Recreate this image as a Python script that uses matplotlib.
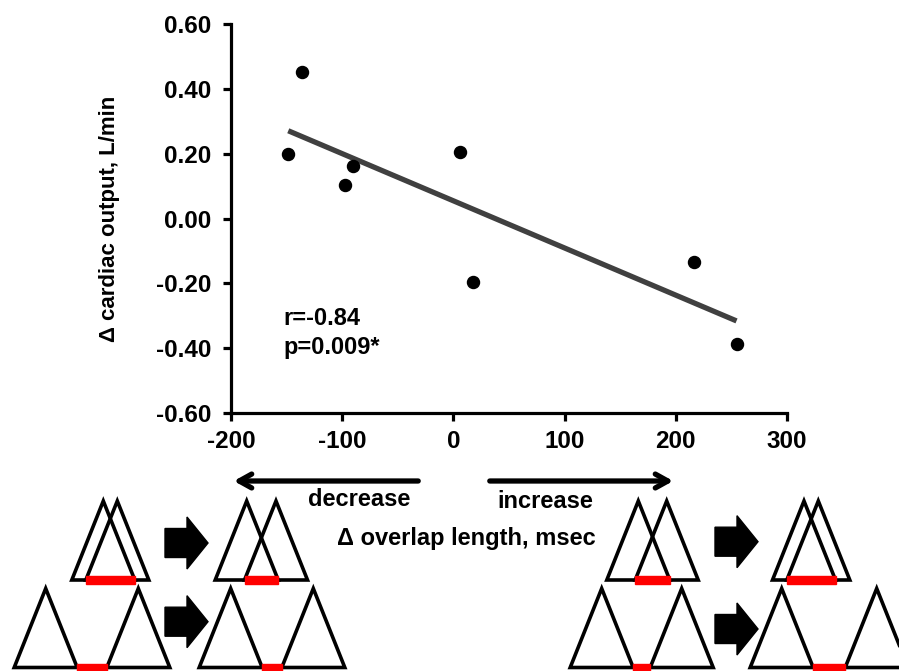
import numpy as np
import matplotlib
matplotlib.use("Agg")
import matplotlib.pyplot as plt
from matplotlib.patches import Polygon, Rectangle

plt.rcParams['font.family'] = ['Liberation Sans', 'DejaVu Sans']
plt.rcParams['font.weight'] = 'bold'
plt.rcParams['axes.unicode_minus'] = False

# data
overlap_change = [-148.5, -136, -97.6, -90, 5.7, 17.4, 216, 254.6]
co_change = [0.20, 0.452, 0.104, 0.163, 0.206, -0.197, -0.135, -0.388]
x_ticks = [-200, -100, 0, 100, 200, 300]
y_ticks = [-0.6, -0.4, -0.2, 0.0, 0.2, 0.4, 0.6]
stat_lines = ["r=-0.84", "p=0.009*"]

# schematic: apex x of triangle pairs (pixels), row apex/base y
tri_pairs_top = [(103.3, 117.3), (246.7, 276), (638.3, 666.7), (804, 818.3)]
tri_pairs_bot = [(45.7, 138.3), (230.7, 313.3), (601.7, 681.7), (781.7, 876.7)]
block_arrows = [(165, 543), (165, 621.7), (715, 541.7), (715, 629)]

W, H = 899, 671
fig = plt.figure(figsize=(W / 100, H / 100), dpi=100)
ax = fig.add_axes([231 / W, 1 - 413 / H, (787 - 231) / W, (413 - 24) / H])

x = np.array(overlap_change)
y = np.array(co_change)
ax.scatter(x, y, s=75, color='black', zorder=3)
k, b = np.polyfit(x, y, 1)
xl = np.array([x.min(), x.max()])
ax.plot(xl, k * xl + b, color='#404040', lw=3.8, solid_capstyle='butt')

ax.set_xlim(-200, 300)
ax.set_ylim(-0.6, 0.6)
ax.set_xticks(x_ticks)
ax.set_yticks(y_ticks)
ax.set_yticklabels(["%.2f" % v for v in y_ticks])
ax.spines['top'].set_visible(False)
ax.spines['right'].set_visible(False)
for s in ['left', 'bottom']:
    ax.spines[s].set_linewidth(2.3)
ax.tick_params(width=2.3, length=6, labelsize=17.5)
ax.tick_params(axis='y', pad=8)
ax.tick_params(axis='x', pad=6)
ax.set_ylabel("Δ cardiac output, L/min", fontsize=16, fontweight='bold', labelpad=26)
ax.text(-153, -0.33, stat_lines[0], fontsize=17, va='baseline')
ax.text(-153, -0.418, stat_lines[1], fontsize=17, va='baseline')

# overlay in pixel space for the schematic
ov = fig.add_axes([0, 0, 1, 1])
ov.set_xlim(0, W)
ov.set_ylim(H, 0)
ov.axis('off')
ov.patch.set_alpha(0)

ov.annotate("", xy=(231, 481), xytext=(421, 481),
            arrowprops=dict(arrowstyle='->,head_length=0.9,head_width=0.5', lw=3.8, color='black'))
ov.annotate("", xy=(676, 481), xytext=(487, 481),
            arrowprops=dict(arrowstyle='->,head_length=0.9,head_width=0.5', lw=3.8, color='black'))
ov.text(359, 499, "decrease", fontsize=17, ha='center', va='center')
ov.text(545, 502, "increase", fontsize=17, ha='center', va='center')
ov.text(466, 539, "Δ overlap length, msec", fontsize=17, ha='center', va='center')

hw, th = 31.5, 79


def draw_pair(ax0, pair, apex_y):
    base_y = apex_y + th
    for cx in pair:
        ax0.add_patch(Polygon([(cx - hw, base_y), (cx, apex_y), (cx + hw, base_y)],
                              closed=True, fill=False, ec='black', lw=2.6,
                              joinstyle='miter'))
    a, c = pair[0] + hw, pair[1] - hw
    lo, hi = min(a, c), max(a, c)
    ax0.add_patch(Rectangle((lo, base_y - 4), hi - lo, 8, color='#ff0000', zorder=3))


for p in tri_pairs_top:
    draw_pair(ov, p, 501)
for p in tri_pairs_bot:
    draw_pair(ov, p, 588.5)

for tx, cy in block_arrows:
    pts = [(tx, cy - 14.5), (tx + 22, cy - 14.5), (tx + 22, cy - 26), (tx + 43, cy),
           (tx + 22, cy + 26), (tx + 22, cy + 14.5), (tx, cy + 14.5)]
    ov.add_patch(Polygon(pts, closed=True, color='black'))

fig.savefig("out.png", dpi=100)
